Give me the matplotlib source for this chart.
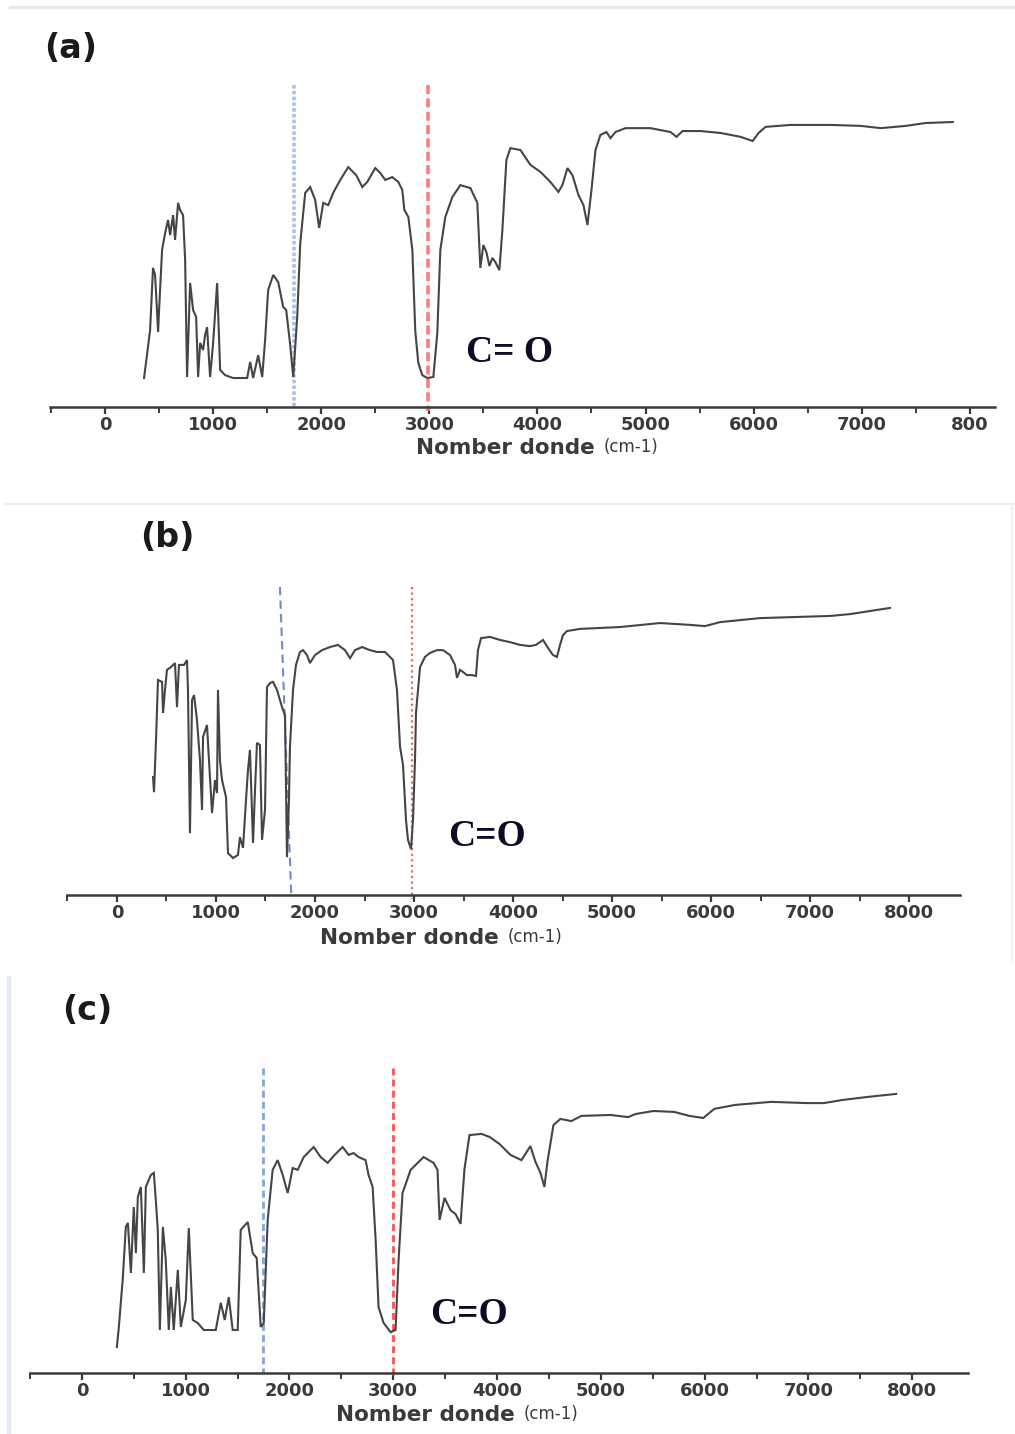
import matplotlib.pyplot as plt
from matplotlib.lines import Line2D

W, H = 1015, 1434

# ---- spectrum (a) ----
WN_A = [361, 380, 417, 444, 463, 491, 500, 528, 556, 583, 602, 630, 648, 676, 694, 722,
        741, 759, 787, 815, 843, 861, 880, 907, 926, 944, 972, 1000, 1037, 1065, 1111,
        1185, 1315, 1343, 1370, 1417, 1454, 1481, 1509, 1556, 1602, 1648, 1676, 1713,
        1741, 1778, 1806, 1852, 1898, 1944, 1981, 2019, 2065, 2111, 2176, 2250, 2324,
        2380, 2426, 2500, 2546, 2593, 2657, 2713, 2750, 2769, 2806, 2843, 2870, 2898,
        2935, 2981, 3037, 3074, 3102, 3148, 3213, 3287, 3380, 3444, 3472, 3500, 3528,
        3556, 3583, 3611, 3648, 3676, 3713, 3750, 3843, 3935, 4028, 4120, 4194, 4231,
        4278, 4324, 4380, 4426, 4463, 4500, 4537, 4583, 4639, 4676, 4722, 4815, 5046,
        5231, 5287, 5343, 5509, 5694, 5880, 5991, 6046, 6111, 6343, 6713, 6991, 7176,
        7407, 7593, 7843]
T_A = [9.0, 14.0, 23.9, 43.2, 41.0, 23.3, 30.1, 48.8, 54.0, 58.1, 53.4, 59.6, 51.9, 63.4,
       61.2, 59.6, 45.7, 9.3, 38.5, 30.1, 28.0, 9.3, 19.9, 17.7, 22.4, 24.8, 9.3, 19.9,
       38.5, 11.5, 9.9, 9.0, 9.0, 14.0, 9.0, 16.1, 9.3, 20.8, 36.3, 41.0, 38.8, 31.1,
       30.1, 19.3, 9.3, 28.0, 50.9, 66.5, 68.3, 64.3, 55.6, 63.4, 62.7, 66.5, 70.5, 74.5,
       72.0, 68.3, 69.9, 74.2, 72.7, 70.5, 71.4, 69.9, 67.4, 61.2, 59.0, 48.8, 23.6, 13.7,
       9.9, 9.0, 9.3, 23.0, 48.8, 59.0, 65.2, 68.9, 68.0, 63.4, 43.2, 50.3, 48.1, 43.8,
       46.3, 45.0, 42.5, 55.0, 76.7, 80.4, 79.8, 75.2, 73.0, 69.9, 66.8, 68.9, 74.2, 72.0,
       65.8, 62.7, 56.5, 67.4, 79.8, 84.5, 85.4, 83.5, 85.4, 86.6, 86.6, 85.4, 83.9, 85.7,
       85.7, 85.1, 83.9, 82.6, 85.1, 87.0, 87.6, 87.6, 87.3, 86.6, 87.3, 88.2, 88.5]

# ---- spectrum (b) ----
WN_B = [364, 374, 394, 414, 455, 465, 485, 505, 545, 586, 606, 626, 677, 707, 717, 737,
        758, 778, 808, 838, 859, 869, 909, 929, 960, 990, 1010, 1020, 1040, 1061, 1101,
        1121, 1172, 1222, 1242, 1273, 1303, 1323, 1343, 1374, 1394, 1414, 1444, 1465,
        1495, 1515, 1545, 1576, 1616, 1667, 1697, 1717, 1737, 1747, 1778, 1808, 1848,
        1879, 1919, 1949, 2000, 2071, 2152, 2232, 2303, 2354, 2404, 2475, 2556, 2626,
        2707, 2788, 2828, 2859, 2889, 2919, 2939, 2970, 2990, 3010, 3020, 3061, 3111,
        3162, 3232, 3293, 3364, 3414, 3434, 3465, 3495, 3535, 3586, 3626, 3646, 3677,
        3768, 3869, 3970, 4071, 4172, 4232, 4303, 4354, 4404, 4444, 4475, 4505, 4545,
        4677, 4879, 5081, 5485, 5788, 5939, 6091, 6495, 6899, 7202, 7404, 7606, 7808]
T_B = [38.3, 33.4, 50.3, 69.8, 69.2, 59.1, 66.6, 73.1, 74.0, 75.3, 61.0, 74.7, 74.7, 76.3,
       66.6, 20.1, 63.3, 64.9, 56.8, 43.8, 27.6, 51.3, 55.2, 43.8, 26.6, 37.3, 33.1, 66.6,
       43.8, 37.3, 31.8, 13.6, 12.0, 13.0, 18.8, 15.3, 30.8, 40.6, 47.1, 16.9, 34.1, 49.4,
       48.7, 17.9, 27.6, 67.5, 68.8, 69.2, 66.6, 61.0, 58.4, 12.3, 30.8, 48.1, 66.6, 74.7,
       78.9, 79.5, 77.9, 75.3, 77.9, 79.5, 80.5, 81.2, 79.5, 76.9, 79.5, 80.5, 79.5, 78.9,
       78.9, 76.3, 66.6, 48.1, 42.2, 24.4, 17.9, 14.9, 24.4, 43.8, 59.1, 74.0, 77.3, 78.6,
       79.5, 79.5, 77.9, 74.7, 70.5, 73.1, 72.4, 71.4, 71.4, 71.1, 79.5, 83.4, 83.8, 82.8,
       82.1, 81.2, 80.8, 81.2, 82.8, 80.2, 77.9, 77.3, 81.2, 84.4, 85.7, 86.4, 86.7, 87.0,
       88.3, 87.7, 87.3, 88.6, 89.9, 90.3, 90.6, 91.2, 92.2, 93.2]

# ---- spectrum (c) ----
WN_C = [337, 356, 395, 423, 443, 472, 500, 520, 539, 568, 597, 616, 664, 693, 712, 731,
        751, 780, 808, 837, 857, 885, 924, 953, 1001, 1030, 1068, 1116, 1174, 1290, 1338,
        1376, 1415, 1453, 1501, 1530, 1598, 1646, 1684, 1723, 1752, 1790, 1838, 1886,
        1935, 1983, 2031, 2079, 2137, 2233, 2300, 2368, 2435, 2512, 2570, 2618, 2666,
        2733, 2762, 2801, 2830, 2858, 2907, 2974, 3022, 3051, 3089, 3167, 3292, 3388,
        3426, 3446, 3494, 3551, 3600, 3648, 3686, 3734, 3850, 3927, 4023, 4129, 4235,
        4321, 4370, 4418, 4456, 4485, 4543, 4610, 4716, 4812, 5091, 5265, 5332, 5505,
        5707, 5852, 5987, 6092, 6295, 6641, 6978, 7151, 7324, 7565, 7844]
T_C = [8.5, 15.1, 31.5, 47.9, 49.2, 32.8, 54.4, 39.3, 57.7, 61.0, 32.8, 61.0, 64.9, 65.6,
       56.7, 46.9, 14.1, 47.9, 37.0, 14.1, 28.2, 14.1, 33.8, 15.1, 23.9, 47.5, 17.4, 16.4,
       14.1, 14.1, 23.0, 17.4, 24.9, 14.1, 14.1, 46.9, 49.5, 39.3, 37.7, 15.1, 16.4, 50.2,
       66.6, 69.8, 64.9, 59.0, 67.2, 66.6, 70.8, 74.1, 70.8, 68.9, 71.5, 74.1, 71.5, 72.1,
       70.8, 69.8, 64.9, 61.0, 43.6, 21.6, 16.4, 13.4, 14.1, 37.0, 59.0, 66.6, 70.8, 68.9,
       66.6, 50.2, 57.4, 53.4, 52.1, 48.9, 66.9, 78.0, 78.4, 77.4, 75.1, 71.5, 69.8, 74.4,
       69.2, 65.6, 61.0, 69.2, 81.3, 83.3, 82.6, 84.3, 84.6, 83.9, 84.9, 85.9, 85.6, 84.3,
       83.6, 86.6, 87.9, 88.9, 88.5, 88.5, 89.5, 90.5, 91.5]

TICKS = [0, 1000, 2000, 3000, 4000, 5000, 6000, 7000, 8000]
TICKLABELS_A = ["0", "1000", "2000", "3000", "4000", "5000", "6000", "7000", "800"]
TICKLABELS_BC = ["0", "1000", "2000", "3000", "4000", "5000", "6000", "7000", "8000"]

# marker lines: (top wavenumber, bottom wavenumber)
BLUE_A, RED_A = (1750, 1750), (2990, 2990)
BLUE_B, RED_B = (1646, 1760), (2977, 2977)
BLUE_C, RED_C = (1745, 1745), (3000, 3000)

PANELS = [
    dict(label="(a)", wn=WN_A, t=T_A, ticklabels=TICKLABELS_A, xlim=(-509, 8233),
         box=(50, 85, 995, 407), blue=BLUE_A, red=RED_A,
         blue_style=dict(color="#a9c3e6", lw=2.6, ls=(0, (1, 0.6))),
         red_style=dict(color="#ff7b7b", lw=2.6, ls=(0, (2.5, 1.2))),
         co="C= O", co_xy=(510, 353), lab_xy=(71, 48), xl_xy=(541, 448)),
    dict(label="(b)", wn=WN_B, t=T_B, ticklabels=TICKLABELS_BC, xlim=(-505, 8515),
         box=(67, 587, 960, 895), blue=BLUE_B, red=RED_B,
         blue_style=dict(color="#6d8cc9", lw=1.5, ls=(0, (4, 2.5))),
         red_style=dict(color="#e46a6a", lw=1.6, ls=(0, (1, 1.5))),
         co="C=O", co_xy=(487, 836), lab_xy=(167, 538), xl_xy=(445, 938)),
    dict(label="(c)", wn=WN_C, t=T_C, ticklabels=TICKLABELS_BC, xlim=(-491, 8537),
         box=(30, 1068, 968, 1373), blue=BLUE_C, red=RED_C,
         blue_style=dict(color="#7ea6dc", lw=2.0, ls=(0, (2.5, 1.5))),
         red_style=dict(color="#ff5252", lw=2.0, ls=(0, (2.5, 1.5))),
         co="C=O", co_xy=(469, 1314), lab_xy=(87, 1010), xl_xy=(461, 1415)),
]


def fx(px):
    return px / W


def fy(py):
    return 1 - py / H


fig = plt.figure(figsize=(W / 100, H / 100), dpi=100)

# faint frame lines of the pasted sub-images
fig.add_artist(Line2D([fx(10), 1], [fy(7), fy(7)], color="#e4e9f0", lw=2.5))
fig.add_artist(Line2D([fx(5), 1], [fy(504), fy(504)], color="#ededed", lw=1.5))
fig.add_artist(Line2D([fx(1012), fx(1012)], [fy(505), fy(960)], color="#eef0f5", lw=1.5))
fig.add_artist(Line2D([fx(9), fx(9)], [fy(978), 0], color="#e3ebf5", lw=3))

for p in PANELS:
    x0, y0, x1, y1 = p["box"]
    ax = fig.add_axes([fx(x0), fy(y1), fx(x1) - fx(x0), (y1 - y0) / H])
    ax.set_xlim(*p["xlim"])
    ax.set_ylim(0, 100)
    for side in ("top", "left", "right"):
        ax.spines[side].set_visible(False)
    ax.spines["bottom"].set_color("#3a3a3a")
    ax.spines["bottom"].set_linewidth(1.8)
    ax.set_yticks([])
    ax.set_xticks(TICKS)
    ax.set_xticklabels(p["ticklabels"])
    ax.set_xticks([t + 500 for t in TICKS[:-1]] + [-500], minor=True)
    ax.tick_params(axis="x", which="major", direction="out", length=5, width=1.6,
                   color="#3a3a3a", labelsize=13, labelcolor="#3a3a3a", pad=1.5)
    ax.tick_params(axis="x", which="minor", direction="out", length=4, width=1.4,
                   color="#3a3a3a")
    for lbl in ax.get_xticklabels():
        lbl.set_fontweight("bold")

    ax.plot(p["blue"], [100, 0], clip_on=False, **p["blue_style"])
    ax.plot(p["red"], [100, -1.2], clip_on=False, **p["red_style"])
    ax.plot(p["wn"], p["t"], color="#454545", lw=1.5, solid_joinstyle="miter")

    fig.text(fx(p["co_xy"][0]), fy(p["co_xy"][1]), p["co"], ha="center", va="center",
             family="Liberation Serif", fontweight="bold", fontsize=27, color="#0c0c26")
    fig.text(fx(p["lab_xy"][0]), fy(p["lab_xy"][1]), p["label"], ha="center", va="center",
             fontweight="bold", fontsize=24, color="#1a1a1a")
    main = fig.text(fx(p["xl_xy"][0] - 36), fy(p["xl_xy"][1]), "Nomber donde",
                    ha="center", va="center", fontweight="bold", fontsize=15.5,
                    color="#3a3a3a")
    ax.annotate("(cm-1)", xy=(1, 0.08), xycoords=main, xytext=(7, 0),
                textcoords="offset points", ha="left", va="bottom", fontsize=12,
                color="#3a3a3a")

fig.savefig("out.png", dpi=100)
